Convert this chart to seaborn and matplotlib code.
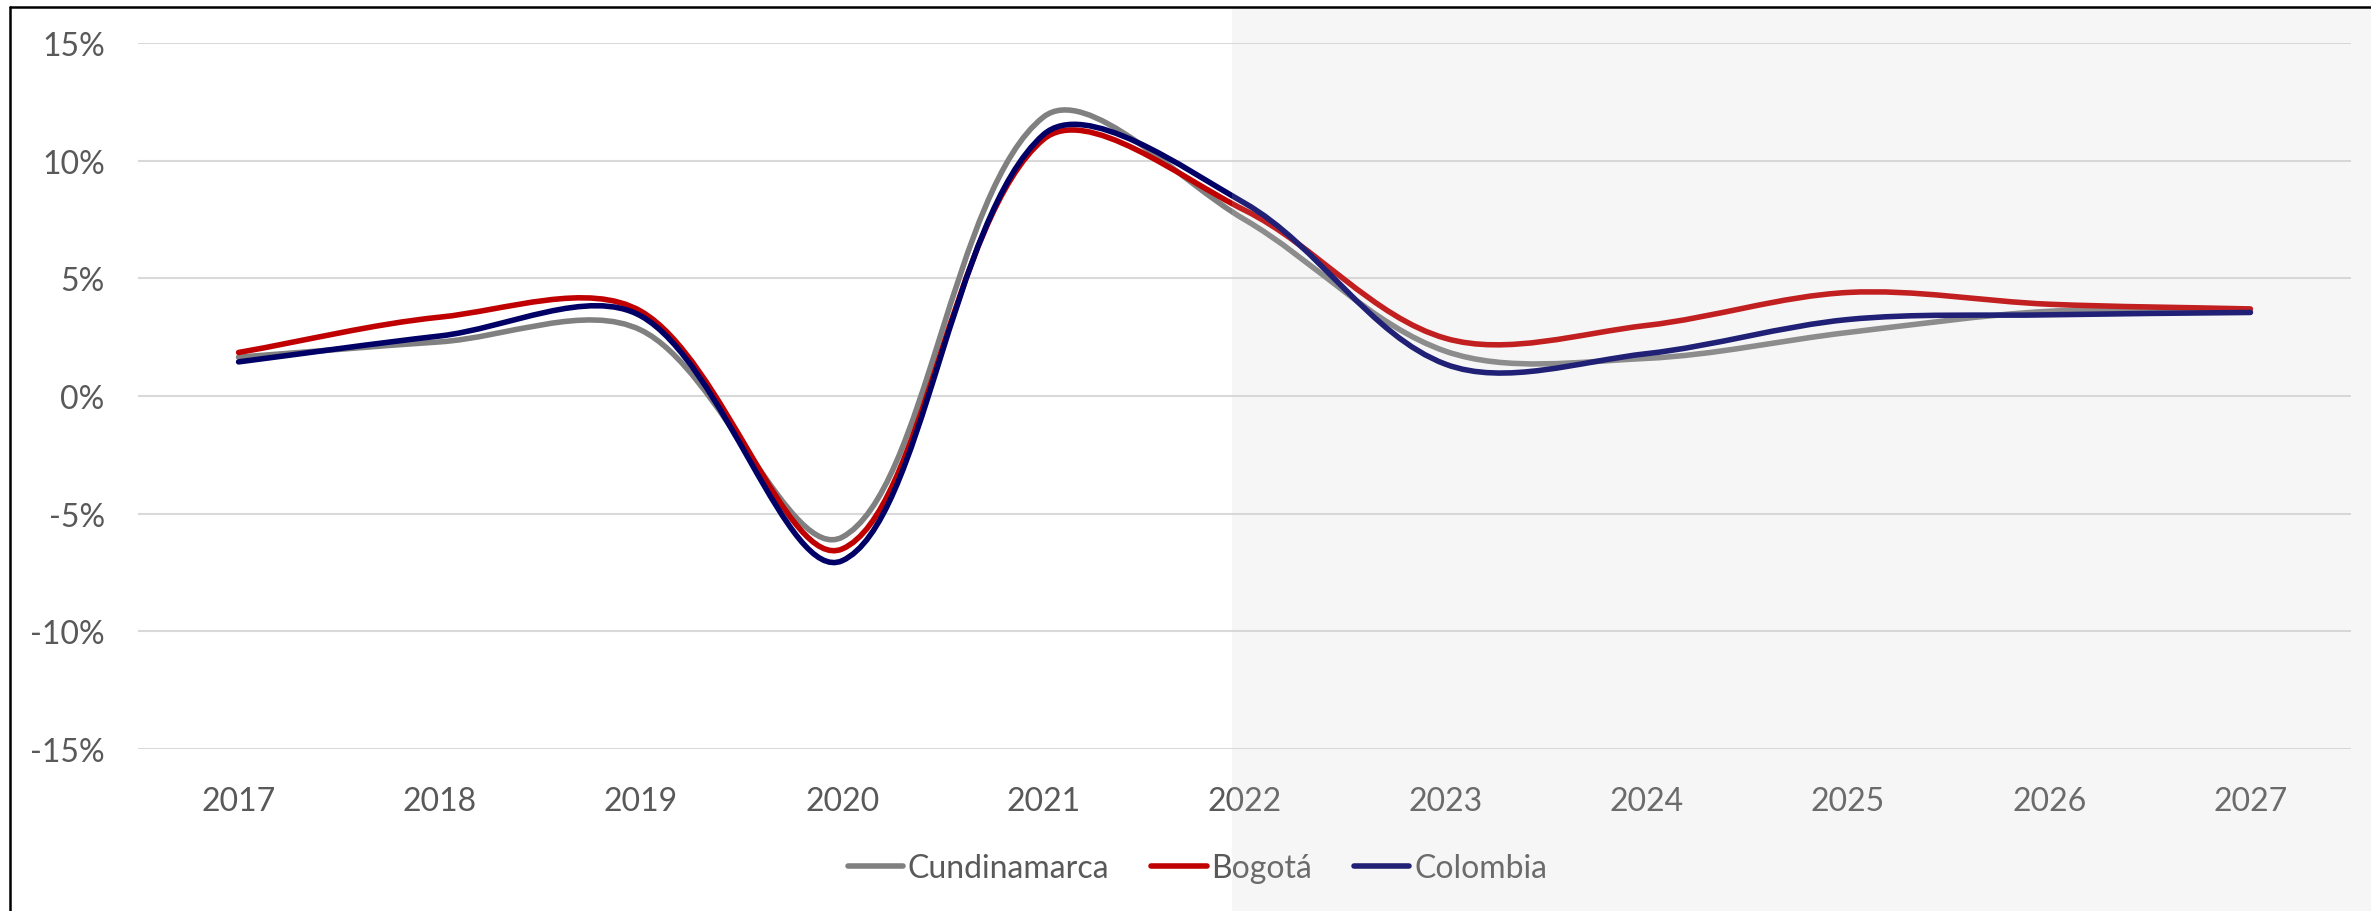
import numpy as np
import pandas as pd
import matplotlib
matplotlib.use("Agg")
import matplotlib.pyplot as plt
import seaborn as sns
from matplotlib.path import Path
from matplotlib.patches import PathPatch, Rectangle
from matplotlib.lines import Line2D
from matplotlib.ticker import PercentFormatter

# data (annual growth, %)
years = [2017, 2018, 2019, 2020, 2021, 2022, 2023, 2024, 2025, 2026, 2027]
cundinamarca = [1.65, 2.3, 2.8, -6.0, 11.85, 7.5, 1.9, 1.6, 2.7, 3.6, 3.6]
bogota = [1.85, 3.35, 3.6, -6.5, 10.9, 7.9, 2.45, 3.0, 4.4, 3.9, 3.7]
colombia = [1.45, 2.55, 3.4, -7.0, 11.1, 8.2, 1.35, 1.8, 3.25, 3.45, 3.55]

series_names = ["Cundinamarca", "Bogotá", "Colombia"]
series_colors = ["#808080", "#C00000", "#000066"]
y_ticks = [-15, -10, -5, 0, 5, 10, 15]

df = pd.DataFrame({
    "year": years * 3,
    "value": cundinamarca + bogota + colombia,
    "serie": [n for n in series_names for _ in years],
})

sns.set_theme(style="white")
plt.rcParams["font.family"] = ["Lato", "DejaVu Sans"]
plt.rcParams["axes.unicode_minus"] = False

W, H = 2371, 912
LW = 4.0
fig = plt.figure(figsize=(W / 100, H / 100), dpi=100)
ax = fig.add_axes([138 / W, 162 / H, 2213 / W, 706 / H])
ax.set_xlim(2016.5, 2027.5)
ax.set_ylim(-15, 15)

sns.lineplot(data=df, x="year", y="value", hue="serie", hue_order=series_names,
             palette=series_colors, legend=False, ax=ax, lw=LW)


# Excel-style smoothed line: cubic beziers built in screen space
def smooth_path(ax, xs, ys, f=1 / 3):
    pts = ax.transData.transform(np.column_stack([xs, ys]))
    n = len(pts)
    verts = [pts[0]]
    codes = [Path.MOVETO]
    for i in range(n - 1):
        p0 = pts[max(i - 1, 0)]
        p1 = pts[i]
        p2 = pts[i + 1]
        p3 = pts[min(i + 2, n - 1)]
        d01 = np.hypot(*(p1 - p0))
        d12 = np.hypot(*(p2 - p1))
        d23 = np.hypot(*(p3 - p2))
        c1 = p1 + (p2 - p0) * f * d12 / (d01 + d12)
        c2 = p2 - (p3 - p1) * f * d12 / (d12 + d23)
        verts += [c1, c2, p2]
        codes += [Path.CURVE4] * 3
    verts = ax.transData.inverted().transform(np.array(verts))
    return Path(verts, codes)


for line in list(ax.lines):
    xs, ys = line.get_data()
    col = line.get_color()
    line.remove()
    ax.add_patch(PathPatch(smooth_path(ax, np.asarray(xs, float), np.asarray(ys, float)),
                           fill=False, edgecolor=col, lw=LW, capstyle="round",
                           joinstyle="round", zorder=3))

ax.set_yticks(y_ticks)
ax.yaxis.set_major_formatter(PercentFormatter(100, decimals=0))
ax.set_xticks(years)
ax.set_xticklabels([str(y) for y in years])
ax.set_xlabel("")
ax.set_ylabel("")
ax.yaxis.grid(True, color="#D9D9D9", lw=1.5)
ax.xaxis.grid(False)
ax.set_axisbelow(True)
for s in ax.spines.values():
    s.set_visible(False)
ax.tick_params(axis="both", length=0, labelsize=23, labelcolor="#595959")
ax.tick_params(axis="y", pad=24)
ax.tick_params(axis="x", pad=27)

# legend
handles = [Line2D([], [], color=c, lw=LW, solid_capstyle="round") for c in series_colors]
fig.legend(handles, series_names, loc="center", bbox_to_anchor=(0.505, 43 / H), ncol=3,
           frameon=False, fontsize=23, handlelength=1.74, handletextpad=0.15,
           columnspacing=1.3, labelcolor="#595959")

# forecast shading (drawn on top, lightens everything behind)
fig.add_artist(Rectangle((1232 / W, 0), 1 - 1232 / W, 1 - 9 / H, transform=fig.transFigure,
                         facecolor=(205 / 255, 205 / 255, 205 / 255), alpha=0.16,
                         edgecolor="none", zorder=10))

# chart border (top and left visible)
fig.add_artist(Line2D([10 / W, 1], [1 - 8 / H, 1 - 8 / H], transform=fig.transFigure,
                      color="black", lw=1.8, zorder=20))
fig.add_artist(Line2D([10 / W, 10 / W], [0, 1 - 8 / H], transform=fig.transFigure,
                      color="black", lw=1.8, zorder=20))

fig.savefig("out.png", dpi=100)
